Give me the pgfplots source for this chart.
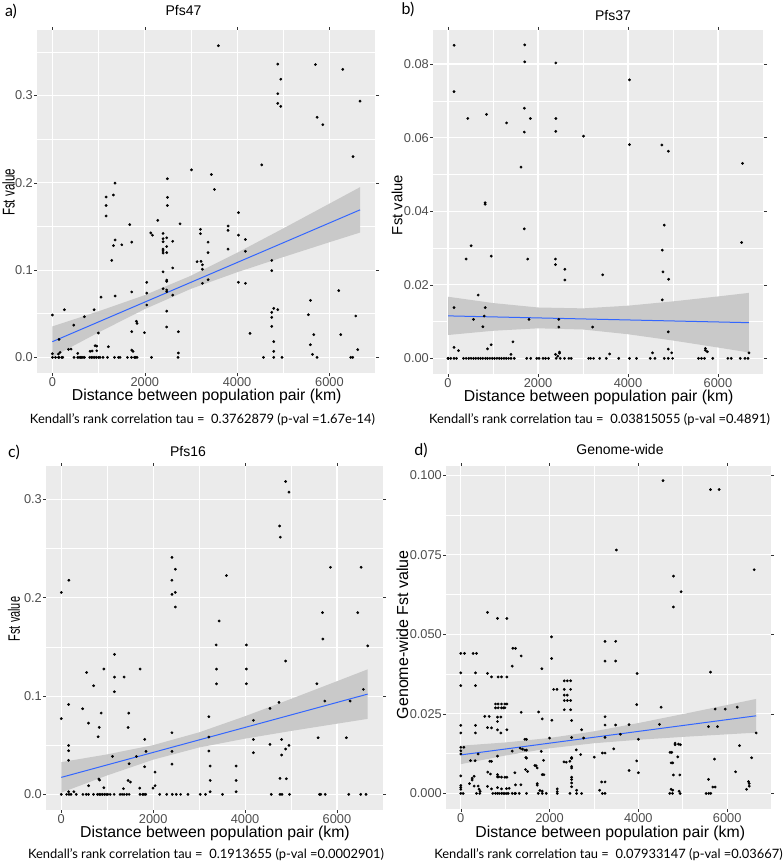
\documentclass[border=0pt]{standalone}
\usepackage{fontspec}
\setmainfont{Liberation Sans}
\newfontfamily\capfont{Lato}
\usepackage{pgfplots}
\pgfplotsset{compat=1.18}

\definecolor{panel}{HTML}{EBEBEB}
\definecolor{tickt}{HTML}{4D4D4D}
\definecolor{tickc}{HTML}{333333}
\definecolor{ggblue}{HTML}{3366FF}
\definecolor{band}{HTML}{C9C9C9}

\pgfplotsset{
  gg/.style={
    scale only axis, anchor=south west,
    axis background/.style={fill=panel},
    axis line style={draw=none},
    grid=both,
    major grid style={white, line width=1.1pt},
    minor grid style={white, line width=0.55pt},
    tick align=outside, major tick length=3pt, minor tick length=0pt,
    tick style={tickc, line width=0.5pt},
    ticklabel style={font=\fontsize{12.8}{14}\selectfont, text=tickt, inner sep=1pt},
    scaled ticks=false,
    xtick={0,2000,4000,6000}, xticklabels={0,2000,4000,6000},
    minor xtick={1000,3000,5000,7000},
  },
  pts/.style={only marks, mark=*, mark size=1.2pt, mark options={draw=none, fill=black}},
  fit/.style={color=ggblue, line width=1pt},
}

\newcommand{\ttl}{\fontsize{14}{16}\selectfont}
\newcommand{\xl}{\fontsize{15.8}{18}\selectfont}
\newcommand{\capt}{\capfont\fontsize{12.9}{14}\selectfont}
\newcommand{\lett}{\capfont\fontsize{16}{18}\selectfont}

\begin{document}
\begin{tikzpicture}[every node/.style={inner sep=0pt}]
\path[use as bounding box] (0pt,0pt) rectangle (784pt,-863pt);

% ---------------- a) Pfs47
\begin{axis}[gg, at={(37pt,-373pt)}, width=339pt, height=343pt,
  xmin=-334, xmax=7009, ymin=-0.0179, ymax=0.375,
  ytick={0,0.1,0.2,0.3}, yticklabels={0.0,0.1,0.2,0.3},
  minor ytick={0.05,0.15,0.25,0.35}]
\addplot[fill=band, draw=none] coordinates {(0,0.0355)(1000,0.0528)(2000,0.0713)(3000,0.0935)(4000,0.1198)(5000,0.1477)(6000,0.1761)(6664,0.195)
 (6664,0.143)(6000,0.1319)(5000,0.1149)(4000,0.0975)(3000,0.0785)(2000,0.0553)(1000,0.0286)(0,0.0005)} -- cycle;
\addplot[pts] table {
x y
3596 0.357
4881 0.336
5697 0.3354
6289 0.330
4946 0.3186
4881 0.302
4881 0.291
4946 0.2875
6664 0.2935
5733 0.275
5856 0.2665
6512 0.230
4534 0.2205
3011 0.2148
3444 0.2095
2491 0.2046
1357 0.1996
1321 0.186
1162 0.1837
2491 0.1833
3509 0.1924
1162 0.174
1162 0.162
2491 0.174
1675 0.152
2282 0.157
2765 0.153
1357 0.1345
1321 0.128
1502 0.129
1718 0.132
2130 0.1425
2166 0.140
2397 0.142
2476 0.137
2397 0.136
2397 0.1325
2606 0.133
2397 0.124
2476 0.127
2397 0.122
2397 0.1195
2476 0.120
3206 0.1467
3206 0.1417
3805 0.1505
3805 0.1455
4029 0.1658
4029 0.140
4180 0.135
4180 0.1215
3372 0.132
3372 0.120
3805 0.124
1285 0.111
3133 0.1096
3220 0.110
3249 0.106
3249 0.101
2606 0.1024
2397 0.098
4751 0.111
4751 0.0993
2043 0.086
2476 0.0886
2476 0.087
3249 0.0848
3372 0.089
4029 0.086
4180 0.0848
2397 0.0787
2476 0.0772
2476 0.0752
2043 0.0737
1718 0.0749
1054 0.069
1357 0.0703
2606 0.0714
6202 0.0764
2043 0.060
5588 0.0653
5545 0.0489
0 0.0485
260 0.0546
902 0.0546
693 0.0466
4794 0.0562
4881 0.0546
4751 0.0516
4751 0.0458
2476 0.053
462 0.037
6570 0.0474
4751 0.0355
2476 0.0348
1819 0.0413
1833 0.039
1718 0.0294
2729 0.0294
996 0.0279
1993 0.0283
4281 0.0275
5661 0.026
6245 0.026
144 0.0206
4794 0.018
1213 0.0122
924 0.0134
960 0.013
5588 0.0145
347 0.0092
404 0.0095
6613 0.0088
4794 0.0069
816 0.0069
859 0.0073
1718 0.0084
1747 0.0069
960 0.0076
5632 0.0034
0 0.0042
166 0.0057
130 0.0038
2729 0.005
549 0.0046
0 0
65 0
130 0
144 0
202 0
224 0
469 0
549 0
578 0
607 0
635 0
664 0
693 0
809 0
845 0
881 0
917 0
953 0
996 0
1032 0
1097 0
1191 0
1343 0
1429 0
1466 0
1624 0
1711 0
1776 0
1805 0
1834 0
2145 0
2722 0
4570 0
4794 0
4974 0
5733 0
6462 0
6505 0
};
\addplot[fit] coordinates {(0,0.018)(6664,0.169)};
\end{axis}

% ---------------- b) Pfs37
\begin{axis}[gg, at={(433pt,-374pt)}, width=331pt, height=344pt,
  xmin=-334, xmax=7023, ymin=-0.00425, ymax=0.08925,
  ytick={0,0.02,0.04,0.06,0.08}, yticklabels={0.00,0.02,0.04,0.06,0.08},
  minor ytick={0.01,0.03,0.05,0.07}]
\addplot[fill=band, draw=none] coordinates {(0,0.01675)(1000,0.01504)(2000,0.01383)(3000,0.01359)(4000,0.01432)(5000,0.01549)(6000,0.01683)(6689,0.0178)
 (6689,0.0016)(6000,0.00295)(5000,0.00485)(4000,0.00656)(3000,0.00785)(2000,0.00817)(1000,0.0075)(0,0.00635)} -- cycle;
\addplot[pts] table {
x y
134 0.0851
1704 0.0852
1704 0.0806
2396 0.0803
134 0.0725
4032 0.0757
1696 0.068
439 0.0652
856 0.0663
1830 0.0652
2396 0.0652
1302 0.064
1696 0.0615
2396 0.0617
3013 0.0604
4032 0.0581
4754 0.058
4896 0.0563
1622 0.052
6547 0.053
826 0.0423
826 0.0419
4806 0.0362
1696 0.0352
6525 0.0315
513 0.0306
4762 0.0294
402 0.027
1771 0.027
960 0.0278
2388 0.027
2388 0.0255
2597 0.0242
3437 0.0227
4777 0.0235
4903 0.0215
2597 0.0213
670 0.0172
4762 0.0159
134 0.0138
826 0.0138
804 0.0115
565 0.0106
1800 0.0106
2463 0.0106
774 0.0086
2463 0.0085
3214 0.0085
4896 0.0072
1443 0.0045
960 0.0037
878 0.0026
134 0.003
231 0.0021
5721 0.0027
5721 0.0022
5766 0.0018
4896 0.0025
4970 0.0015
4546 0.0015
3593 0.0012
2388 0.0011
2478 0.0017
2478 0.0014
1399 0.0011
6689 0.0015
2440 0.0006
0 0
7 0
60 0
134 0
186 0
342 0
402 0
461 0
513 0
565 0
618 0
670 0
722 0
774 0
833 0
878 0
930 0
982 0
1034 0
1086 0
1138 0
1190 0
1242 0
1295 0
1347 0
1399 0
1473 0
1748 0
1838 0
1972 0
2024 0
2113 0
2165 0
2232 0
2403 0
2492 0
2589 0
2686 0
2738 0
3125 0
3169 0
3236 0
3370 0
3519 0
3794 0
4032 0
4188 0
4494 0
4598 0
4806 0
4896 0
4992 0
5565 0
5632 0
5699 0
5885 0
6220 0
6294 0
6495 0
6599 0
6666 0
};
\addplot[fit] coordinates {(0,0.01155)(6689,0.0097)};
\end{axis}

% ---------------- c) Pfs16
\begin{axis}[gg, at={(46pt,-810pt)}, width=337pt, height=344pt,
  xmin=-333, xmax=7002, ymin=-0.0159, ymax=0.334,
  ytick={0,0.1,0.2,0.3}, yticklabels={0.0,0.1,0.2,0.3},
  minor ytick={0.05,0.15,0.25}]
\addplot[fill=band, draw=none] coordinates {(0,0.0328)(1000,0.0407)(2000,0.0501)(3000,0.0631)(4000,0.0795)(5000,0.0971)(6000,0.1151)(6669,0.1272)
 (6669,0.0768)(6000,0.0719)(5000,0.0645)(4000,0.0567)(3000,0.0477)(2000,0.0353)(1000,0.0193)(0,0.0018)} -- cycle;
\addplot[pts] table {
x y
4882 0.3182
4955 0.3074
4752 0.273
4767 0.2616
2409 0.241
2481 0.229
5859 0.231
6524 0.231
166 0.2178
2409 0.2178
3595 0.2226
0 0.2054
2409 0.2034
2481 0.2054
2481 0.1906
5685 0.1848
6452 0.1848
3436 0.1764
5692 0.158
3371 0.152
4029 0.152
6669 0.151
1157 0.1424
4882 0.1356
550 0.124
926 0.1275
1714 0.1275
3378 0.1275
4029 0.1275
1157 0.1193
1367 0.1193
702 0.1105
3378 0.1125
4029 0.1125
5562 0.1125
1157 0.1044
6575 0.1068
159 0.0915
463 0.0871
868 0.0827
1468 0.0827
4738 0.0936
4542 0.0875
5736 0.0949
6286 0.0949
0 0.077
593 0.0725
3211 0.079
4181 0.0753
825 0.0681
1454 0.0681
803 0.0586
2409 0.0627
3211 0.0583
5591 0.0576
6206 0.0576
1815 0.0559
4181 0.0559
4795 0.0559
4542 0.0508
4955 0.0498
4882 0.0461
4795 0.040
4181 0.0424
1114 0.0386
1635 0.0386
1844 0.0437
2409 0.0437
3211 0.0441
159 0.0498
159 0.0444
159 0.0346
1476 0.0312
2409 0.0308
1815 0.0281
3240 0.0288
3805 0.0288
2040 0.0227
1454 0.0142
1504 0.0125
832 0.0146
817 0.0156
3240 0.0142
3805 0.0142
4759 0.0163
4897 0.0159
593 0.0088
2040 0.0088
1996 0.0064
1352 0.0058
1707 0.0064
926 0.0068
159 0.0027
275 0.0027
3240 0.0027
3805 0.0027
0 0
116 0
166 0
210 0
325 0
470 0
542 0
593 0
702 0
788 0
825 0
861 0
897 0
940 0
976 0
1013 0
1063 0
1150 0
1280 0
1324 0
1367 0
1425 0
1476 0
1714 0
1772 0
1801 0
1837 0
2141 0
2293 0
2416 0
2503 0
2597 0
2756 0
3023 0
3139 0
3508 0
4571 0
4759 0
4803 0
4969 0
5620 0
5649 0
5743 0
6257 0
6517 0
6633 0
};
\addplot[fit] coordinates {(0,0.0173)(6669,0.102)};
\end{axis}

% ---------------- d) Genome-wide
\begin{axis}[gg, at={(446pt,-809pt)}, width=325pt, height=343pt,
  xmin=-333, xmax=6988, ymin=-0.0049, ymax=0.1029,
  ytick={0,0.025,0.05,0.075,0.1}, yticklabels={0.000,0.025,0.050,0.075,0.100},
  minor ytick={0.0125,0.0375,0.0625,0.0875}]
\addplot[fill=band, draw=none] coordinates {(0,0.015)(1000,0.01601)(2000,0.01742)(3000,0.01951)(4000,0.02212)(5000,0.02492)(6000,0.0278)(6655,0.0297)
 (6655,0.0191)(6000,0.01858)(5000,0.01776)(4000,0.01686)(3000,0.01577)(2000,0.01418)(1000,0.01189)(0,0.0092)} -- cycle;
\addplot[pts] table {
x y
4557 0.0983
5625 0.0955
5820 0.0955
3504 0.0765
6610 0.0703
4790 0.0683
4963 0.0634
4790 0.0586
602 0.0569
827 0.055
1038 0.055
2045 0.0492
3249 0.0478
3489 0.0478
1173 0.0456
1233 0.0456
0 0.044
83 0.044
278 0.044
353 0.044
1361 0.0432
3249 0.0416
3489 0.0416
2045 0.0424
0 0.0379
331 0.0379
602 0.0377
692 0.0366
842 0.0366
917 0.0366
1038 0.0366
1158 0.040
1827 0.0392
5625 0.0381
3971 0.0377
0 0.0339
331 0.0339
2331 0.0354
2399 0.0354
2474 0.0354
2091 0.0327
2166 0.0327
2331 0.0327
2474 0.0327
2331 0.0309
2399 0.0309
2331 0.0292
2399 0.0292
2474 0.0292
3963 0.0279
782 0.0281
842 0.0281
917 0.0281
993 0.0281
1038 0.0281
782 0.0269
842 0.0269
917 0.0269
963 0.0269
993 0.0269
4512 0.0271
5730 0.0265
5956 0.0265
6227 0.0271
2331 0.0263
2474 0.0263
1361 0.0255
1752 0.0256
541 0.0242
639 0.0242
827 0.024
902 0.024
3249 0.0241
1835 0.0234
2053 0.023
2497 0.0229
827 0.0226
0 0.0214
331 0.0214
3249 0.0215
3489 0.0215
3790 0.0216
4474 0.0217
5580 0.021
5783 0.021
602 0.0207
692 0.0206
827 0.020
1038 0.020
2722 0.020
0 0.019
331 0.019
902 0.019
3595 0.0186
6655 0.019
2000 0.0174
2497 0.0176
2767 0.0174
3249 0.0176
1444 0.017
1481 0.017
4001 0.017
4828 0.0158
4903 0.0155
4948 0.0153
4828 0.0153
6279 0.015
0 0.0145
68 0.0145
1339 0.0142
1391 0.0139
3444 0.014
2602 0.0137
1158 0.0133
1444 0.0136
1481 0.0136
1812 0.0132
3189 0.0127
3249 0.0127
4715 0.0129
4753 0.0129
0 0.0134
391 0.0124
0 0.0124
2700 0.0122
827 0.0117
1466 0.0113
1481 0.0111
3008 0.0114
2497 0.0113
2497 0.011
4888 0.0115
5715 0.0108
6550 0.0112
218 0.0103
323 0.0103
654 0.0101
692 0.0101
1865 0.0104
2459 0.0101
3963 0.0102
2324 0.0099
2376 0.0098
4738 0.0096
4775 0.0096
1669 0.0088
1699 0.0087
1722 0.008
1459 0.0075
1504 0.0069
2497 0.0085
2497 0.008
3790 0.0072
4933 0.0058
4790 0.0058
4001 0.0065
6189 0.0068
0 0.0055
301 0.0054
256 0.0048
609 0.0067
669 0.0061
827 0.0059
827 0.0052
857 0.0052
917 0.0051
993 0.0051
1038 0.0051
1218 0.0065
1835 0.0059
1872 0.0059
2497 0.0051
2497 0.0044
5580 0.0044
6482 0.0037
6497 0.0031
196 0.0031
256 0.0042
301 0.0023
0 0.0025
0 0.0019
0 0.0013
391 0.0023
602 0.0022
692 0.0014
827 0.0018
917 0.0014
1030 0.0015
1090 0.0016
1233 0.0027
1354 0.0027
1722 0.0031
1722 0.0026
1782 0.0009
1835 0.0007
2173 0.0014
2173 0.0006
2497 0.0033
2497 0.0021
2609 0.001
3174 0.0036
3249 0.0036
4738 0.0013
4775 0.001
4918 0.0007
5677 0.002
5730 0.002
6437 0.0013
6497 0.0023
3128 0.001
414 0.0013
436 0.0007
0 0
53 0
353 0
429 0
722 0
782 0
827 0
865 0
917 0
955 0
993 0
1038 0
1068 0
1158 0
1218 0
1233 0
1316 0
1481 0
1745 0
1835 0
1925 0
2173 0
2459 0
2609 0
2722 0
3189 0
3249 0
4708 0
4768 0
4941 0
5527 0
5587 0
5632 0
};
\addplot[fit] coordinates {(0,0.0121)(6655,0.0244)};
\end{axis}

% ---------------- texts
\node[font=\lett] at (11pt,-11pt) {a)};
\node[font=\lett] at (408pt,-9pt) {b)};
\node[font=\lett] at (14pt,-452pt) {c)};
\node[font=\lett] at (421pt,-450pt) {d)};

\node[font=\ttl] at (183.5pt,-10pt) {Pfs47};
\node[font=\ttl] at (613pt,-15pt) {Pfs37};
\node[font=\ttl] at (188pt,-451pt) {Pfs16};
\node[font=\ttl] at (620pt,-449pt) {Genome-wide};

\node[font=\xl] at (206.7pt,-396.5pt) {Distance between population pair (km)};
\node[font=\xl] at (598.7pt,-397.5pt) {Distance between population pair (km)};
\node[font=\xl] at (215pt,-833.5pt) {Distance between population pair (km)};
\node[font=\xl] at (610.3pt,-833pt) {Distance between population pair (km)};

\node[font=\fontsize{17}{19}\selectfont, rotate=90, xscale=0.68] at (8.5pt,-192.5pt) {Fst value};
\node[font=\fontsize{14.8}{17}\selectfont, rotate=90] at (397pt,-205pt) {Fst value};
\node[font=\fontsize{16.5}{19}\selectfont, rotate=90, xscale=0.66] at (14pt,-619pt) {Fst value};
\node[font=\fontsize{16}{18}\selectfont, rotate=90] at (402.5pt,-634.7pt) {Genome-wide Fst value};

\node[font=\capt] at (202.5pt,-420pt) {Kendall’s rank correlation tau =\ \ 0.3762879 (p-val =1.67e-14)};
\node[font=\capt] at (599.5pt,-420pt) {Kendall’s rank correlation tau =\ \ 0.03815055 (p-val =0.4891)};
\node[font=\capt] at (206pt,-855pt) {Kendall’s rank correlation tau =\ \ 0.1913655 (p-val =0.0002901)};
\node[font=\capt] at (608.5pt,-855pt) {Kendall’s rank correlation tau =\ \ 0.07933147 (p-val =0.03667)};
\end{tikzpicture}
\end{document}
